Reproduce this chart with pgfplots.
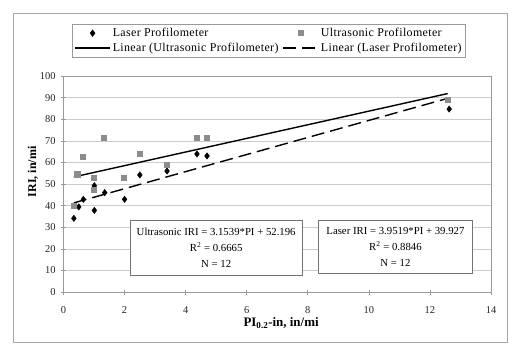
\documentclass[border=0pt]{standalone}
\usepackage{fontspec}
\setmainfont{Liberation Serif}
\usepackage{pgfplots}
\pgfplotsset{compat=1.18}
\pgfplotsset{longlegend/.style={legend image code/.code={\draw[mark repeat=2,mark phase=2,##1] plot coordinates {(0bp,0bp)(17.5bp,0bp)(35bp,0bp)};}}}
\begin{document}
\begin{tikzpicture}[x=1bp,y=1bp]
\useasboundingbox (0,0) rectangle (515,351);
\fill[white] (0,0) rectangle (515,351);
\draw[gray!70, line width=1bp] (13,9) rectangle (507,337);
\begin{axis}[
  at={(63.5bp,59bp)}, anchor=south west,
  scale only axis, width=427.5bp, height=216bp,
  xmin=0, xmax=14, ymin=0, ymax=100,
  xtick={0,2,...,14}, ytick={0,10,...,100},
  xtick pos=left, ytick pos=left,
  ymajorgrids, grid style={gray!40, line width=0.6bp},
  axis line style={gray!80, line width=0.6bp},
  tick style={gray!80, line width=0.6bp},
  tick align=center, major tick length=5bp,
  ticklabel style={font=\fontsize{10.5}{12}\selectfont, text=black!85},
  xticklabel style={yshift=-9bp},
  yticklabel style={xshift=-2bp},
  /pgf/number format/assume math mode=true,
  xlabel={\textbf{PI\textsubscript{0.2}-in, in/mi}},
  ylabel={\textbf{IRI, in/mi}},
  xlabel style={at={(axis description cs:0.509,-0.1435)}, anchor=center, font=\fontsize{13}{15}\selectfont},
  ylabel style={at={(axis description cs:-0.0713,0.556)}, anchor=center, font=\fontsize{12}{14}\selectfont},
  legend columns=2,
  legend style={at={(axis description cs:0.4807,1.241)}, anchor=north,
    draw=gray!80, line width=0.6bp, font=\fontsize{12}{14}\selectfont\addfontfeature{LetterSpace=3},
    /tikz/every even column/.append style={column sep=2bp},
    row sep=1bp, inner sep=2bp},
  legend cell align=left,
  longlegend,
]
\addplot[only marks, mark=diamond*, mark size=3.2bp, black]
  coordinates {(0.34,34.1)(0.5,39.4)(0.65,42.9)(1.01,49.2)(1.01,37.8)(1.35,46)(2.0,42.9)(2.5,54.2)(3.39,56)(4.37,63.9)(4.7,63)(12.63,84.7)};
\addlegendentry{Laser Profilometer}
\addplot[only marks, mark=square*, mark size=2.6bp, gray!90]
  coordinates {(0.34,40.1)(0.45,54.5)(0.63,62.5)(1.0,53.1)(1.0,47.4)(1.32,71.3)(1.97,53.1)(2.49,64.2)(3.38,59.1)(4.37,71.3)(4.68,71.3)(12.58,89.2)};
\addlegendentry{Ultrasonic Profilometer}
\addplot[black, line width=1.4bp, no marks]
  coordinates {(0.34,53.27)(12.58,91.87)};
\addlegendentry{Linear (Ultrasonic Profilometer)}
\addplot[black, line width=1.4bp, no marks, dash pattern=on 13bp off 6bp]
  coordinates {(0.34,41.27)(12.63,89.84)};
\addlegendentry{Linear (Laser Profilometer)}
\node[draw=gray!90!black, line width=0.6bp, fill=white, align=center, minimum width=172bp, minimum height=55bp, inner sep=0pt,
  font=\fontsize{10.8}{16}\selectfont] at (axis cs:5.0,20.6)
  {Ultrasonic IRI = 3.1539*PI + 52.196\\R\textsuperscript{2} = 0.6665\\N = 12};
\node[draw=gray!90!black, line width=0.6bp, fill=white, align=center, minimum width=154bp, minimum height=53bp, inner sep=0pt,
  font=\fontsize{10.8}{16}\selectfont] at (axis cs:10.87,21.06)
  {Laser IRI = 3.9519*PI + 39.927\\R\textsuperscript{2} = 0.8846\\N = 12};
\end{axis}
\end{tikzpicture}
\end{document}
